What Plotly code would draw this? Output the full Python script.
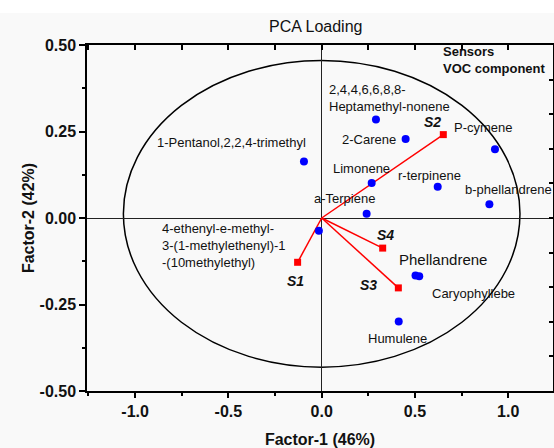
import plotly.graph_objects as go

# ---- data ----
voc_names = ["1-Pentanol,2,2,4-trimethyl", "2,4,4,6,6,8,8-Heptamethyl-nonene", "2-Carene",
             "P-cymene", "Limonene", "r-terpinene", "b-phellandrene", "a-Terpiene",
             "4-ethenyl-e-methyl-3-(1-methylethenyl)-1-(10methylethyl)",
             "Phellandrene", "Caryophyllebe", "Humulene"]
voc_f1 = [-0.095, 0.291, 0.450, 0.929, 0.268, 0.622, 0.899, 0.241, -0.015, 0.503, 0.523, 0.413]
voc_f2 = [0.163, 0.285, 0.228, 0.199, 0.101, 0.090, 0.040, 0.012, -0.037, -0.166, -0.168, -0.299]

sensor_names = ["S1", "S2", "S3", "S4"]
sensor_f1 = [-0.129, 0.652, 0.411, 0.327]
sensor_f2 = [-0.128, 0.241, -0.202, -0.087]

x_tickvals = [-1.0, -0.5, 0.0, 0.5, 1.0]
x_ticktext = ["-1.0", "-0.5", "0.0", "0.5", "1.0"]
y_tickvals = [-0.5, -0.25, 0.0, 0.25, 0.5]
y_ticktext = ["-0.50", "-0.25", "0.00", "0.25", "0.50"]

# label anchors (data coords) for annotations
voc_label_xy = {
    "1-Pentanol,2,2,4-trimethyl": (-0.481, 0.218, "center", "1-Pentanol,2,2,4-trimethyl", 13),
    "2,4,4,6,6,8,8-Heptamethyl-nonene": (0.030, 0.346, "left", "2,4,4,6,6,8,8-<br>Heptamethyl-nonene", 13),
    "2-Carene": (0.254, 0.226, "center", "2-Carene", 13),
    "P-cymene": (0.870, 0.262, "center", "P-cymene", 13),
    "Limonene": (0.211, 0.1445, "center", "Limonene", 13),
    "r-terpinene": (0.577, 0.122, "center", "r-terpinene", 13),
    "b-phellandrene": (0.999, 0.082, "center", "b-phellandrene", 13),
    "a-Terpiene": (0.122, 0.0558, "center", "a-Terpiene", 13),
    "4-ethenyl-e-methyl-3-(1-methylethenyl)-1-(10methylethyl)":
        (-0.867, -0.080, "left", "4-ethenyl-e-methyl-<br>3-(1-methylethenyl)-1<br>-(10methylethyl)", 13),
    "Phellandrene": (0.648, -0.1205, "center", "Phellandrene", 15),
    "Caryophyllebe": (0.813, -0.2168, "center", "Caryophyllebe", 13),
    "Humulene": (0.405, -0.347, "center", "Humulene", 13),
}
sensor_label_xy = {"S1": (-0.142, -0.181), "S2": (0.592, 0.277),
                   "S3": (0.250, -0.193), "S4": (0.341, -0.048)}

FONT = "Liberation Sans, Arial, sans-serif"

fig = go.Figure()

# sensor vectors
for n, sx, sy in zip(sensor_names, sensor_f1, sensor_f2):
    fig.add_trace(go.Scatter(x=[0, sx], y=[0, sy], mode="lines",
                             line=dict(color="#ff0000", width=1.5),
                             showlegend=False, hoverinfo="skip"))
fig.add_trace(go.Scatter(x=sensor_f1, y=sensor_f2, mode="markers", text=sensor_names,
                         marker=dict(symbol="square", size=7, color="#ff0000"),
                         showlegend=False))
fig.add_trace(go.Scatter(x=voc_f1, y=voc_f2, mode="markers", text=voc_names,
                         marker=dict(symbol="circle", size=8, color="#0000ff"),
                         showlegend=False))
# dummy trace for mirrored tick axes
fig.add_trace(go.Scatter(x=[None], y=[None], xaxis="x2", yaxis="y2", showlegend=False))

# correlation ellipse
fig.add_shape(type="circle", xref="x", yref="y", x0=-1.063, x1=1.063, y0=-0.431, y1=0.455,
              line=dict(color="black", width=1.5), layer="below")
# white strip at the very top of the page
fig.add_shape(type="rect", xref="paper", yref="paper", x0=-0.3, x1=1.01, y0=1.0 + 32 / 346,
              y1=1.2, line=dict(width=0), fillcolor="white", layer="below")

for name, (lx, ly, al, txt, fs) in voc_label_xy.items():
    fig.add_annotation(x=lx, y=ly, text=txt, showarrow=False, align=al,
                       xanchor=("left" if al == "left" else "center"), yanchor="middle",
                       font=dict(family=FONT, size=fs, color="#111111"))
for n in sensor_names:
    lx, ly = sensor_label_xy[n]
    fig.add_annotation(x=lx, y=ly, text=f"<b><i>{n}</i></b>", showarrow=False,
                       font=dict(family=FONT, size=14, color="#111111"))

fig.add_annotation(x=0.638, y=0.457, text="<b>Sensors<br>VOC component</b>", showarrow=False,
                   align="left", xanchor="left", yanchor="middle",
                   font=dict(family=FONT, size=13, color="#111111"))

axis_common = dict(showgrid=False, showline=True, linecolor="black", linewidth=1.5,
                   zeroline=True, zerolinecolor="#222222", zerolinewidth=1)

fig.update_layout(
    width=554, height=448,
    margin=dict(l=87, r=1, t=45, b=57),
    paper_bgcolor="#f9f9f9", plot_bgcolor="#f9f9f9",
    title=dict(text="PCA Loading", x=0.57, xanchor="center", y=0.94, yanchor="middle",
               font=dict(family=FONT, size=16, color="#111111")),
    xaxis=dict(range=[-1.258, 1.24], tickmode="array", tickvals=x_tickvals,
               ticktext=[f"<b>{t}</b>" for t in x_ticktext],
               ticks="outside", ticklen=5, tickwidth=1.5, tickcolor="black",
               minor=dict(ticks="outside", ticklen=3, dtick=0.25, tick0=0, tickcolor="black"),
               tickfont=dict(family=FONT, size=16, color="#111111"),
               title=dict(text="<b>Factor-1 (46%)</b>", standoff=18,
                          font=dict(family=FONT, size=16, color="#111111")),
               automargin=False, **axis_common),
    yaxis=dict(range=[-0.5, 0.5], tickmode="array", tickvals=y_tickvals,
               ticktext=[f"<b>{t}</b>" for t in y_ticktext],
               ticks="outside", ticklen=6, tickwidth=1.5, tickcolor="black",
               minor=dict(ticks="outside", ticklen=3, dtick=0.125, tick0=0, tickcolor="black"),
               tickfont=dict(family=FONT, size=16, color="#111111"),
               title=dict(text="<b>Factor-2 (42%)</b>", standoff=1,
                          font=dict(family=FONT, size=16, color="#111111")),
               automargin=False, **axis_common),
    xaxis2=dict(range=[-1.258, 1.24], overlaying="x", side="top", anchor="y2",
                dtick=0.25, tick0=0, ticks="inside", ticklen=5, tickwidth=1.5, tickcolor="black",
                showticklabels=False, showgrid=False, zeroline=False,
                showline=True, linecolor="black", linewidth=1.5),
    yaxis2=dict(range=[-0.5, 0.5], overlaying="y", side="right", anchor="x2",
                dtick=0.1, tick0=0, ticks="inside", ticklen=4, tickwidth=1.5, tickcolor="black",
                showticklabels=False, showgrid=False, zeroline=False,
                showline=True, linecolor="black", linewidth=1.5),
)

fig.write_html("out.html")
